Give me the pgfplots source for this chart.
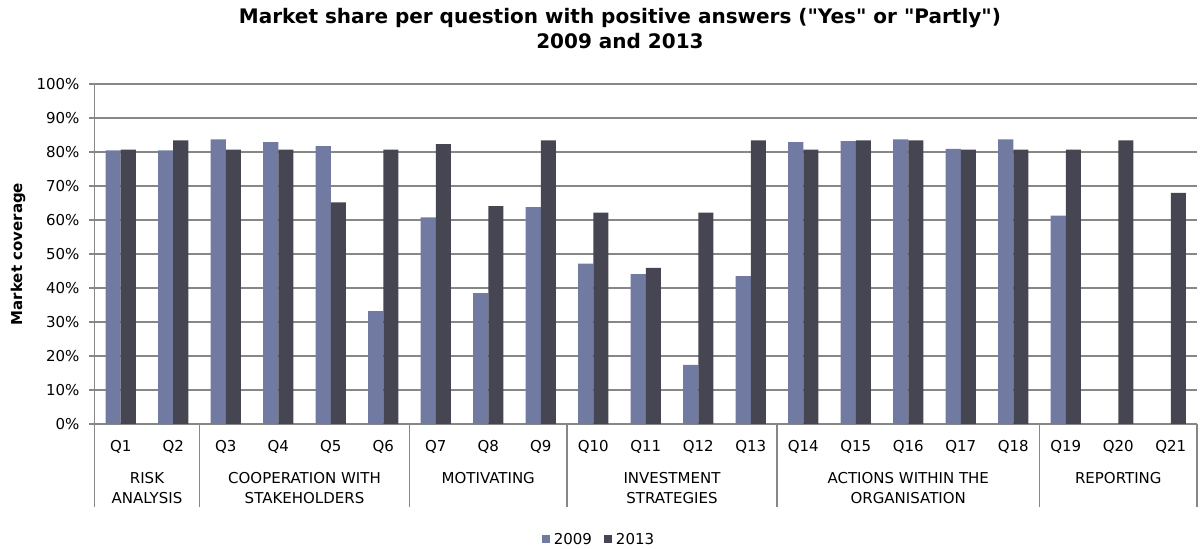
\documentclass[border=0pt]{standalone}
\usepackage{fontspec}
\setmainfont{DejaVu Sans}[Ligatures=TeXOff]
\usepackage{pgfplots}
\pgfplotsset{compat=1.18}
\definecolor{c2009}{HTML}{717BA1}
\definecolor{c2013}{HTML}{464652}
\definecolor{gridc}{HTML}{878787}

\begin{document}
\begin{tikzpicture}[font=\fontsize{7.5}{10}\selectfont]
\path[use as bounding box] (-47.25pt,-62.5pt) rectangle (552.75pt,212pt);
\begin{axis}[
    at={(0pt,0pt)}, anchor=south west,
    scale only axis,
    width=551.25pt, height=170pt,
    clip=false,
    xmin=-0.5, xmax=20.5,
    ymin=0, ymax=100,
    axis lines*=left,
    axis line style={gridc, line width=0.8pt, -},
    ymajorgrids,
    grid style={gridc, line width=0.8pt},
    ytick={0,10,...,100},
    yticklabel={\pgfmathprintnumber{\tick}\%},
    ytick style={gridc, line width=0.8pt},
    yticklabel style={xshift=-1.5pt},
    tick align=outside,
    major tick length=2.5pt,
    xtick={0,...,20},
    xticklabels={Q1,Q2,Q3,Q4,Q5,Q6,Q7,Q8,Q9,Q10,Q11,Q12,Q13,Q14,Q15,Q16,Q17,Q18,Q19,Q20,Q21},
    xtick style={draw=none},
    xticklabel style={yshift=-2pt},
    /pgf/number format/assume math mode=true,
    tick label style={font=\fontsize{7.5}{9}\selectfont},
    ylabel={Market coverage},
    ylabel style={font=\fontsize{7.5}{9}\selectfont\bfseries, at={(axis description cs:-0.0694,0.5)}, anchor=center},
    title={Market share per question with positive answers (\char34 Yes\char34{} or \char34 Partly\char34)\\2009 and 2013},
    title style={font=\fontsize{10}{12.5}\selectfont\bfseries, align=center, at={(axis description cs:0.4766,1.1265)}, anchor=center},
    ybar,
    bar width=0.286,
    legend columns=2,
    legend style={at={(axis description cs:0.4585,-0.341)}, anchor=center, draw=none,
        font=\fontsize{7.5}{9}\selectfont,
        /tikz/every even column/.append style={column sep=4pt}},
    legend image code/.code={\fill[#1] (0pt,-1.6pt) rectangle (4pt,2.4pt);},
]
\addplot[fill=c2009, draw=none, bar shift=-0.143] coordinates {
 (0,80.5) (1,80.5) (2,83.7) (3,82.9) (4,81.7) (5,33.2) (6,60.8) (7,38.5) (8,63.8)
 (9,47.2) (10,44.1) (11,17.4) (12,43.5) (13,82.9) (14,83.2) (15,83.7) (16,80.9)
 (17,83.7) (18,61.3)
};
\addlegendentry{2009}
\addplot[fill=c2013, draw=none, bar shift=0.143] coordinates {
 (0,80.7) (1,83.4) (2,80.7) (3,80.7) (4,65.2) (5,80.7) (6,82.3) (7,64.1) (8,83.4)
 (9,62.2) (10,45.9) (11,62.2) (12,83.4) (13,80.7) (14,83.4) (15,83.4) (16,80.7)
 (17,80.7) (18,80.7) (19,83.4) (20,68.0)
};
\addlegendentry{2013}

% group separators below the axis
\pgfplotsinvokeforeach{-0.5,1.5,5.5,8.5,12.5,17.5,20.5}{
  \draw[gridc, line width=0.8pt] (axis cs:#1,0) -- ([yshift=-41.5pt]axis cs:#1,0);
}
% group names
\tikzset{grp/.style={anchor=north, align=center, inner sep=0pt, font=\fontsize{7.5}{10}\selectfont, yshift=-23.75pt}}
\node[grp] at (axis cs:0.5,0) {RISK\\ANALYSIS};
\node[grp] at (axis cs:3.5,0) {COOPERATION WITH\\STAKEHOLDERS};
\node[grp] at (axis cs:7,0) {MOTIVATING};
\node[grp] at (axis cs:10.5,0) {INVESTMENT\\STRATEGIES};
\node[grp] at (axis cs:15,0) {ACTIONS WITHIN THE\\ORGANISATION};
\node[grp] at (axis cs:19,0) {REPORTING};
\end{axis}
\end{tikzpicture}
\end{document}
